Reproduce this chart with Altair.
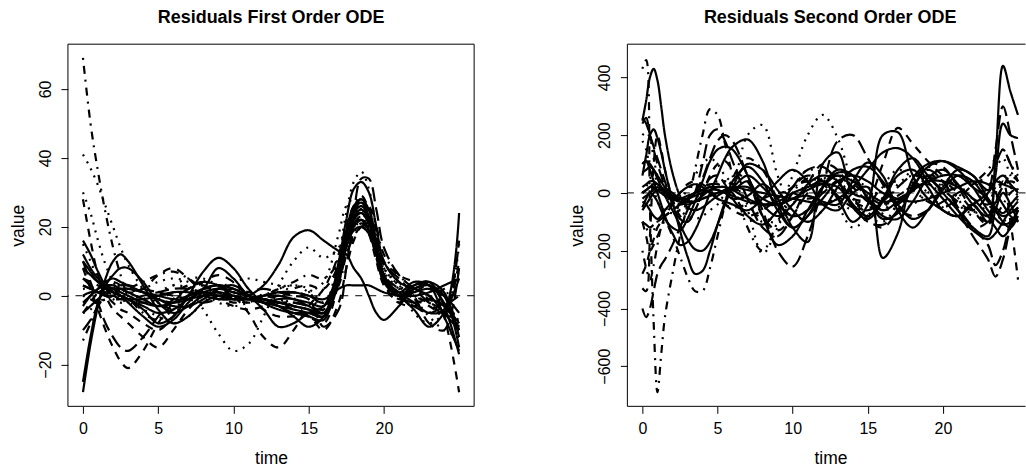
import altair as alt
import pandas as pd

# ---------------- time grids ----------------
TIME_FIRST = [0, 0.5, 1, 1.5, 2, 2.5, 3,
              4, 5, 6, 7, 8, 9, 10, 11, 12, 13, 14, 15, 16,
              17, 17.5, 18, 18.5, 19, 19.5, 20,
              21, 22, 23, 24, 25]

TIME_SECOND = [0, 0.25, 0.5, 0.75, 1, 1.25, 1.5,
               2, 2.5, 3, 3.5, 4, 4.5, 5, 5.5, 6,
               7, 8, 9, 10, 11, 12, 13, 14, 15, 16, 17, 18, 19, 20, 21, 22, 23,
               23.5, 24, 24.5, 25]

# ---------------- first order residual curves ----------------
F01 = [69, 50, 36, 24, 14, 6, 0,   -5, -7, -4, 0, 2, 2, 0, -1, 0, 1, 1, 0, -2,   8, 18, 26, 29, 25, 15, 5,   -1, 1, 3, 0, 7]
F02 = [41, 37, 32, 26, 20, 14, 9,   2, -2, -1, 2, 3, 1, -1, -2, 0, 2, 3, 1, -3,   12, 24, 33, 36, 31, 19, 7,   -1, -3, -5, -2, -8]
F03 = [28, 16, 6, 0, -4, -6, -8,   -12, -15, -10, -4, 0, 2, 1, 0, -1, -2, -4, -6, -8,   4, 16, 25, 28, 24, 14, 4,   -2, 2, 4, -6, -28]
F04 = [-28, -14, -3, 5, 10, 12, 10,   3, -4, -8, -6, -2, 0, 0, -1, -2, -3, -4, -5, -6,   5, 16, 23, 25, 22, 14, 6,   0, 2, 3, 0, -15]
F05 = [-25, -12, -2, 3, 6, 8, 8,   4, -2, -5, -3, 0, 1, 0, -1, -1, -2, -3, -4, -5,   8, 18, 25, 27, 23, 13, 4,   0, 3, 4, -3, -17]
F06 = [16, 12, 7, 3, 1, 0, -1,   -3, -5, -4, -1, 1, 2, 1, 0, -1, -2, -3, -4, -6,   10, 22, 31, 33, 30, 20, 10,   4, 2, 0, -5, -10]
F07 = [8, 2, -4, -10, -15, -19, -21,   -16, -8, -2, 2, 3, 1, -1, -2, -1, 0, 1, 0, -2,   6, 14, 20, 22, 18, 10, 3,   -2, -3, -1, 2, 5]
F08 = [10, 4, -2, -8, -12, -15, -16,   -12, -6, -1, 2, 4, 3, 1, 0, -1, -2, -2, -3, -4,   5, 15, 21, 23, 19, 11, 4,   0, -3, -5, -3, 0]
F09 = [2, 2, 1, 0, -1, -2, -2,   -1, 1, 3, 2, -4, -11, -16, -14, -6, 3, 10, 14, 11,   14, 20, 24, 25, 22, 15, 8,   3, 0, -2, -5, -7]
F10 = [5, 4, 3, 2, 1, 0, -1,   -2, -1, 1, 3, 4, 3, 0, -5, -12, -15, -10, -3, 2,   12, 20, 26, 28, 25, 18, 10,   4, 0, -2, -4, -6]
F11 = [0, 1, 1, 2, 2, 2, 2,   1, -1, -3, -3, -1, 2, 3, 0, -4, -9, -8, -5, -3,   8, 18, 24, 26, 23, 15, 6,   0, -2, -1, -3, -8]
F12 = [3, 2, 1, 0, 0, -1, -1,   -1, 0, 1, 1, 0, -1, -1, 0, 3, 9, 17, 19, 16,   13, 12, 8, 5, 0, -5, -7,   -3, 2, 3, -2, -10]
F13 = [10, 7, 4, 2, 1, 0, -1,   -4, -8, -6, 0, 7, 11, 8, 2, -2, -4, -5, -5, -6,   4, 15, 22, 24, 21, 13, 5,   0, 1, 2, 0, -5]
F14 = [-5, -2, 1, 3, 4, 3, 1,   2, 6, 8, 5, 1, -1, -3, -4, -3, -1, 2, 3, 2,   9, 16, 20, 22, 19, 12, 6,   2, -1, -3, -5, 10]
F15 = [30, 24, 16, 9, 4, 1, -1,   -2, 0, 3, 5, 5, 3, 1, -1, -2, -2, -1, 1, 4,   18, 26, 28, 25, 20, 13, 7,   2, -1, -6, -10, -12]
F16 = [-10, -7, -3, 0, 2, 3, 3,   2, 1, 0, -1, -2, -1, 0, 1, 2, 1, 0, -1, -9,   -4, 8, 24, 34, 34, 25, 14,   6, 2, -2, -5, 16]
F17 = [-5, -3, -1, 1, 2, 2, 2,   1, 0, -1, -1, 0, 0, -1, -1, 0, 1, 1, 0, -1,   2, 3, 3, 3, 3, 2, 1,   0, 0, 1, 3, 5]
F18 = [12, 8, 5, 3, 2, 1, 0,   -2, -3, -2, 0, 1, 0, -1, -1, 0, 0, -1, -2, -3,   6, 14, 19, 20, 18, 12, 5,   1, -2, -5, -4, 24]
F19 = [-13, -8, -3, 0, 2, 3, 3,   1, -2, -4, -3, 0, 1, 2, 1, 0, -1, -3, -5, -4,   3, 12, 18, 21, 19, 13, 6,   2, 1, 0, -5, -8]
F20 = [-5, -4, -2, -1, 0, 0, 1,   2, 4, 5, 4, 1, -2, -3, -2, 0, 2, 3, 2, -2,   6, 14, 19, 22, 20, 14, 8,   3, -5, -8, -6, -7]
F21 = [5, 3, 1, 0, -1, -1, -1,   0, 1, 2, 2, 1, 0, 0, -1, -1, -2, -2, -3, -5,   4, 12, 17, 20, 18, 14, 9,   5, 0, -8, -10, 8]
F22 = [-2, 0, 2, 3, 3, 2, 1,   -1, -3, -2, 0, 2, 3, 2, 0, -2, -3, -6, -9, -6,   6, 16, 21, 22, 19, 12, 4,   0, -4, -9, -5, 5]
F23 = [3, 2, 1, 0, -2, -4, -5,   -8, -10, -6, 0, 4, 6, 4, 0, -4, -6, -6, -6, -10,   -2, 8, 16, 20, 20, 16, 10,   6, 4, 2, 0, -10]
F24 = [15, 10, 5, 2, 0, -1, -2,   -4, -6, -8, -6, -2, 2, 4, 5, 4, 3, 1, -1, -3,   5, 14, 20, 22, 19, 14, 8,   3, 0, -2, -6, 15]
F25 = [0, -1, -2, -1, 0, 1, 2,   4, 6, 7, 5, 2, 0, -2, -1, 0, 2, 4, 6, 5,   10, 18, 24, 27, 26, 20, 12,   6, 2, -1, -3, -9]
F26 = [8, 6, 4, 3, 2, 0, -2,   -6, -9, -7, -2, 2, 3, 2, 0, -1, -3, -5, -6, -7,   9, 19, 26, 28, 25, 16, 6,   0, 3, 4, 1, -12]
F27 = [-3, 0, 2, 4, 5, 4, 3,   1, -1, -2, -1, 2, 8, 5, 0, -2, -1, -1, -3, -5,   7, 17, 23, 24, 21, 14, 6,   1, 4, 3, -6, -16]

FIRST_NAMES = ["F01", "F02", "F03", "F04", "F05", "F06", "F07", "F08", "F09", "F10",
               "F11", "F12", "F13", "F14", "F15", "F16", "F17", "F18", "F19", "F20",
               "F21", "F22", "F23", "F24", "F25", "F26", "F27"]
FIRST_VALUES = [F01, F02, F03, F04, F05, F06, F07, F08, F09, F10,
                F11, F12, F13, F14, F15, F16, F17, F18, F19, F20,
                F21, F22, F23, F24, F25, F26, F27]
FIRST_LTY = ["dotdash", "dotted", "dashed", "solid", "solid", "solid", "dashed", "longdash", "dotted", "dashed",
             "solid", "solid", "solid", "dashed", "dotted", "longdash", "solid", "solid", "dotdash", "dotted",
             "longdash", "solid", "dashed", "dotted", "dotdash", "solid", "solid"]

# ---------------- second order residual curves ----------------
S01 = [250, 320, 400, 430, 390, 300, 200,   70, -10, -50, -60, -50, -30, -10, 5, 15,
       20, -20, -40, -20, 10, 30, 20, -40, -80, -20, 80, 120, 60, 0, -60, -120, -150,   -60, 0, -40, -100]
S02 = [60, 130, 200, 220, 190, 140, 80,   -30, -130, -220, -280, -270, -200, -110, -30, 40,
       90, 40, -60, -120, -80, 20, 80, 60, -20, -90, -70, 20, 90, 110, 90, 60, 10,   40, 30, 20, 10]
S03 = [430, 460, -50, -450, -690, -560, -430,   -280, -150, -40, 80, 200, 290, 270, 170, 60,
       -120, -200, -100, 0, 50, 30, -20, -60, -40, 20, 40, 10, -30, -50, -20, 30, 80,   120, 150, 100, 60]
S04 = [-400, -430, -400, -340, -280, -250, -230,   -180, -120, -60, 0, 100, 200, 220, 180, 110,
       -20, -120, -150, -80, 0, 50, 60, 20, -30, -60, -40, 10, 60, 40, -50, -120, -180,   -250, -200, -100, -50]
S05 = [0, 20, 50, 60, 40, 20, 0,   -40, -60, -50, -20, 10, 30, 40, 40, 30,
       -30, -100, -60, 60, 200, 270, 190, 30, -80, -70, 30, 60, 50, 20, -40, -70, -40,   20, 50, 70, 40]
S06 = [-100, -120, -150, -130, -100, -80, -60,   -40, -20, 10, 60, 100, 120, 100, 60, 40,
       200, 235, 60, -60, -100, -60, 0, 40, 20, -20, -60, -40, 0, 30, 60, 40, -20,   -60, -100, -60, -20]
S07 = [200, 210, 190, 120, 60, 30, 0,   -30, -60, -80, -90, -80, -60, -40, 0, 40,
       -60, -210, -120, 0, 80, 60, -40, -120, -80, 20, 80, 50, 0, -50, -80, -40, 20,   80, 120, 60, 10]
S08 = [240, 260, 200, 150, 100, 60, 20,   -20, -40, -30, 0, 50, 120, 180, 200, 180,
       60, -60, -200, -255, -150, 20, 180, 200, 120, 30, -50, -80, -60, -30, 0, 30, 60,   100, 150, 100, 40]
S09 = [100, 110, 80, 40, 0, -40, -80,   -140, -180, -170, -130, -70, 0, 60, 120, 160,
       185, 110, -40, -120, -80, -20, 40, 60, 40, 0, -20, -30, -20, 0, 20, 40, 30,   0, -40, -80, -100]
S10 = [-50, -20, 0, -10, -30, -60, -90,   -120, -130, -90, -30, 40, 110, 150, 160, 150,
       60, -80, -180, -150, -60, 20, 60, 40, 0, -30, -20, 10, 40, 40, 20, -20, -80,   -120, -150, -120, -60]
S11 = [0, 10, 20, 30, 30, 20, 10,   -10, -20, -20, -10, 0, 10, 10, 0, -20,
       -10, 30, -20, -120, -170, 100, 140, 0, -20, -60, -30, 10, 40, 60, 60, 20, -20,   -60, -80, -70, -50]
S12 = [-30, -40, -60, -80, -90, -80, -60,   -30, 0, 20, 30, 20, 0, -20, -30, -40,
       -60, -20, 40, 80, 40, -40, -60, 0, 20, -225, -140, 50, 100, 110, 80, 20, -60,   -90, -110, -100, -60]
S13 = [20, 30, 40, 40, 30, 20, 10,   -10, -30, -40, -30, -10, 10, 20, 20, 10,
       -20, -40, -40, -20, -10, -30, -40, 40, 105, 60, -60, -120, -60, 20, 80, 60, -20,   -60, -100, -120, -80]
S14 = [-20, -10, 0, 10, 20, 10, 0,   -20, -30, -20, 0, 10, 20, 10, 0, -10,
       -30, -40, -30, 0, 20, 40, -20, -100, -40, 200, 210, 60, -20, -60, -80, -40, 0,   40, 60, 30, 0]
S15 = [-100, -150, -200, -180, -150, -120, -80,   -40, 0, 30, 40, 30, 10, -20, -40, -50,
       -40, -20, 0, 0, -20, 0, 40, -20, -20, 100, 225, 170, 110, 60, 20, -20, -40,   -20, 20, 60, 40]
S16 = [70, 80, 90, 80, 60, 40, 20,   0, -20, -30, -30, -20, -10, 0, 10, 20,
       10, 0, -10, -20, -30, -40, -20, 20, 80, 140, 155, 120, 40, -20, -80, -130, -160,   -140, -100, -60, -30]
S17 = [0, 10, 20, 20, 10, 0, -10,   -20, -20, -10, 0, 10, 20, 20, 20, 10,
       40, -40, -80, -40, 30, 60, 40, -50, -90, -30, 60, 80, 20, -60, -80, -40, -100,   120, 440, 350, 270]
S18 = [-60, -40, -20, 0, 10, 10, 0,   -10, -20, -30, -30, -20, -10, 0, 10, 20,
       60, 20, -40, -80, -60, 20, 70, 60, -20, -80, -90, -30, 50, 80, 30, -40, -80,   60, 240, 200, 190]
S19 = [-100, -110, -120, -110, -100, -90, -80,   -60, -40, -20, 0, 20, 30, 30, 20, 0,
       -80, -110, -60, 20, 80, 90, 40, -40, -100, -110, -60, 20, 80, 40, -60, -150, -230,   -290, -230, -120, -60]
S20 = [-280, -250, -200, -160, -120, -100, -80,   -60, -40, -20, 0, 10, 0, -20, -40, -60,
       -80, -60, -20, 20, 40, 30, 0, -30, -50, -40, -10, 20, 30, 0, -60, -120, -100,   -40, 40, -100, -300]
S21 = [180, 150, 80, 20, -30, -50, -60,   -70, -60, -40, -20, 0, 20, 30, 40, 30,
       -40, -90, -100, -40, 40, 80, 50, -20, -80, -100, -40, 40, 90, 60, -20, -80, -60,   0, 40, 20, -10]
S22 = [-200, -260, -300, -250, -180, -120, -100,   -150, -220, -290, -340, -340, -260, -150, -40, 50,
       120, 80, -20, -80, -60, 0, 40, 30, -10, -40, -30, 10, 50, 40, 0, -60, -100,   -80, -40, 0, 20]
S23 = [-330, -340, -150, 100, 200, 150, 80,   -20, -80, -100, -60, 0, 60, 100, 110, 80,
       40, -80, -130, -80, 30, 100, 80, -10, -90, -120, -60, 30, 100, 90, 20, -60, -110,   -30, 20, 40, 30]
S24 = [100, 110, 100, 80, 50, 20, -10,   -60, -110, -160, -195, -200, -170, -110, -40, 20,
       100, 80, 10, -60, -100, -60, 20, 80, 90, 40, -40, -90, -60, 10, 60, 40, -30,   -50, -70, -40, -10]
S25 = [260, 240, 200, 160, 120, 80, 40,   -40, -90, -100, -60, 0, 50, 60, 30, -20,
       -80, -110, -60, 20, 60, 40, -10, -50, -60, -30, 20, 60, 50, 10, -30, -60, 0,   150, 300, 200, 80]

SECOND_NAMES = ["S01", "S02", "S03", "S04", "S05", "S06", "S07", "S08", "S09", "S10",
                "S11", "S12", "S13", "S14", "S15", "S16", "S17", "S18", "S19", "S20",
                "S21", "S22", "S23", "S24", "S25"]
SECOND_VALUES = [S01, S02, S03, S04, S05, S06, S07, S08, S09, S10,
                 S11, S12, S13, S14, S15, S16, S17, S18, S19, S20,
                 S21, S22, S23, S24, S25]
SECOND_LTY = ["solid", "solid", "dotdash", "longdash", "dotted", "dotted", "dotted", "longdash", "solid", "solid",
              "solid", "solid", "solid", "solid", "dashed", "solid", "solid", "solid", "longdash", "dashed",
              "dotted", "dotdash", "dashed", "solid", "longdash"]

LTY_NAMES = ["solid", "dashed", "dotted", "dotdash", "longdash"]
LTY_DASHES = [[1, 0], [8, 7], [2, 6], [2, 6, 8, 6], [14, 6]]

X_TICKS = [0, 5, 10, 15, 20]
Y_TICKS_FIRST = [-20, 0, 20, 40, 60]
Y_TICKS_SECOND = [-600, -400, -200, 0, 200, 400]


def build_frame(times, names, values, ltys):
    rows = []
    for name, vals, lty in zip(names, values, ltys):
        if len(vals) != len(times):
            raise ValueError(f"{name}: {len(vals)} values for {len(times)} times")
        for t, v in zip(times, vals):
            rows.append({"curve": name, "time": t, "value": v, "lty": lty})
    return pd.DataFrame(rows)


df_first = build_frame(TIME_FIRST, FIRST_NAMES, FIRST_VALUES, FIRST_LTY)
df_second = build_frame(TIME_SECOND, SECOND_NAMES, SECOND_VALUES, SECOND_LTY)

FONT = "Liberation Sans"
H = 362.5
LEFT_MARGIN = 67.7
TOP_MARGIN = 43.5


def panel(df, title, xdom, ydom, yticks, width, full_width, title_center, right_border, anchor):
    x_axis = alt.Axis(values=X_TICKS, title="time", grid=False, domain=False,
                      tickSize=7, tickColor="black", tickWidth=1,
                      labelFont=FONT, labelFontSize=16, labelColor="black",
                      labelBaseline="alphabetic", labelPadding=20.3, labelFlush=False,
                      titleFont=FONT, titleFontSize=17.5, titleFontWeight="normal",
                      titleColor="black", titleBaseline="alphabetic", titleAlign="center",
                      titleX=full_width / 2, titleY=57)
    y_axis = alt.Axis(values=yticks, title="value", grid=False, domain=False,
                      tickSize=7, tickColor="black", tickWidth=1,
                      labelFont=FONT, labelFontSize=16, labelColor="black",
                      labelAngle=270, labelAlign="center", labelBaseline="alphabetic",
                      labelPadding=10.7, labelFlush=False,
                      titleFont=FONT, titleFontSize=17.5, titleFontWeight="normal",
                      titleColor="black", titleAngle=270, titleBaseline="alphabetic",
                      titleAlign="center", titleX=-44.6, titleY=H / 2)
    xs = alt.Scale(domain=xdom, nice=False, zero=False)
    ys = alt.Scale(domain=ydom, nice=False, zero=False)

    lines = alt.Chart(df).mark_line(color="black", strokeWidth=2.2, interpolate="catmull-rom",
                                    clip=True).encode(
        x=alt.X("time:Q", scale=xs, axis=x_axis),
        y=alt.Y("value:Q", scale=ys, axis=y_axis),
        detail="curve:N",
        strokeDash=alt.StrokeDash("lty:N", scale=alt.Scale(domain=LTY_NAMES, range=LTY_DASHES),
                                  legend=None),
    )
    zero = alt.Chart(pd.DataFrame({"value": [0]})).mark_rule(
        color="black", strokeWidth=1, strokeDash=[7, 7]).encode(
        y=alt.Y("value:Q", scale=ys, axis=y_axis))

    one = pd.DataFrame({"a": [0]})
    box_style = dict(color="black", strokeWidth=1)
    top = alt.Chart(one).mark_rule(**box_style).encode(
        x=alt.value(0), x2=alt.value(width), y=alt.value(0))
    bottom = alt.Chart(one).mark_rule(**box_style).encode(
        x=alt.value(0), x2=alt.value(width), y=alt.value(H))
    left = alt.Chart(one).mark_rule(**box_style).encode(
        x=alt.value(0), y=alt.value(0), y2=alt.value(H))
    head = alt.Chart(pd.DataFrame({"t": [title]})).mark_text(
        font=FONT, fontSize=18, fontWeight="bold", color="black",
        align="center", baseline="alphabetic").encode(
        text="t:N", x=alt.value(title_center), y=alt.value(22.3 - TOP_MARGIN))
    layers = [zero, lines, top, bottom, left, head]
    if right_border:
        layers.append(alt.Chart(one).mark_rule(**box_style).encode(
            x=alt.value(width), y=alt.value(0), y2=alt.value(H)))
    if anchor:
        # white, invisible corner mark that pins the page margins (top-left)
        layers.append(alt.Chart(one).mark_rule(color="white", strokeWidth=1).encode(
            x=alt.value(-LEFT_MARGIN + 0.5), y=alt.value(-TOP_MARGIN + 0.5),
            y2=alt.value(-TOP_MARGIN + 1.5)))

    return alt.layer(*layers).properties(width=width, height=H)


left_panel = panel(df_first, "Residuals First Order ODE", [-1, 26], [-32.1, 73.0],
                   Y_TICKS_FIRST, 406.6, 406.6, 203.3, True, True)
right_panel = panel(df_second, "Residuals Second Order ODE", [-1, 25.5], [-739, 515],
                    Y_TICKS_SECOND, 398.5, 406.6, 203.0, False, False)

chart = alt.hconcat(left_panel, right_panel, spacing=153, bounds="flush").properties(
    padding=0,
    background="white",
).configure_view(stroke=None)

chart.save("out.html", embed_options={"renderer": "svg", "actions": False})
